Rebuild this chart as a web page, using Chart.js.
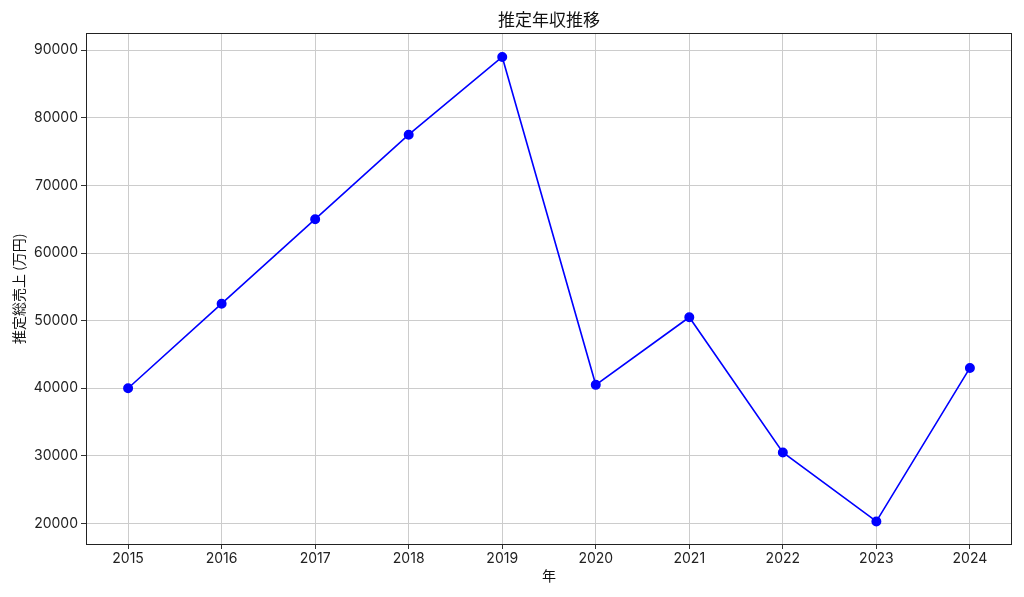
<!DOCTYPE html>
<html>
<head>
<meta charset="utf-8">
<script src="https://cdn.jsdelivr.net/npm/chart.js@4"></script>
<style>
  html, body { margin: 0; padding: 0; background: #fff; }
  #wrap { width: 1024px; height: 597px; }
</style>
</head>
<body>
<div id="wrap"><canvas id="salesChart" width="1024" height="597"></canvas></div>
<script>
// data
const years = [2015, 2016, 2017, 2018, 2019, 2020, 2021, 2022, 2023, 2024];
const sales = [40000, 52500, 65000, 77500, 89000, 40500, 50500, 30500, 20300, 43000];
const yTicks = [20000, 30000, 40000, 50000, 60000, 70000, 80000, 90000];

const tickFont = { family: 'Inter, "Noto Sans CJK JP", sans-serif', size: 14 };
const cjkFont = { family: '"Noto Sans CJK JP", sans-serif', size: 14 };

// matplotlib-like box around the plot area
const frame = {
  id: 'frame',
  afterDraw(chart) {
    const { ctx, chartArea: a } = chart;
    ctx.save();
    ctx.strokeStyle = '#222';
    ctx.lineWidth = 1;
    ctx.strokeRect(Math.round(a.left) + 0.5, Math.round(a.top) + 0.5,
      Math.round(a.right - a.left) - 1, Math.round(a.bottom - a.top));
    ctx.restore();
  }
};

const config = {
  type: 'scatter',
  data: {
    datasets: [{
      data: years.map((y, i) => ({ x: y, y: sales[i] })),
      showLine: true,
      borderColor: '#0000ff',
      backgroundColor: '#0000ff',
      borderWidth: 1.6,
      pointRadius: 4.2,
      pointHoverRadius: 4.2,
      tension: 0
    }]
  },
  options: {
    responsive: false,
    animation: false,
    layout: { padding: { left: 0, right: 12, top: 0, bottom: 0 } },
    plugins: {
      legend: { display: false },
      tooltip: { enabled: false },
      title: {
        display: true,
        fullSize: false,
        text: '推定年収推移',
        color: '#111',
        font: { family: '"Noto Sans CJK JP", sans-serif', size: 17, weight: 'normal' },
        padding: { top: 9, bottom: 4 }
      }
    },
    scales: {
      x: {
        type: 'linear',
        min: 2014.55,
        max: 2024.45,
        afterBuildTicks: (scale) => { scale.ticks = years.map(v => ({ value: v })); },
        afterFit: (scale) => { scale.height = 53; },
        ticks: {
          color: '#222',
          font: tickFont,
          padding: 1,
          callback: (v) => String(v)
        },
        grid: { color: '#cccccc', lineWidth: 1, tickLength: 5, tickColor: '#333' },
        border: { display: false },
        title: { display: true, text: '年', color: '#111', font: cjkFont, padding: { top: 0, bottom: 12.5 } }
      },
      y: {
        min: 16960,
        max: 92480,
        afterBuildTicks: (scale) => { scale.ticks = yTicks.map(v => ({ value: v })); },
        afterFit: (scale) => { scale.width = 86; },
        ticks: {
          color: '#222',
          font: tickFont,
          padding: 3,
          callback: (v) => String(v)
        },
        grid: { color: '#cccccc', lineWidth: 1, tickLength: 5, tickColor: '#333' },
        border: { display: false },
        title: { display: true, text: '推定総売上 (万円)', color: '#111', font: cjkFont, padding: { top: 10, bottom: 0 } }
      }
    }
  },
  plugins: [frame]
};

const salesChart = new Chart(document.getElementById('salesChart'), config);
</script>
</body>
</html>
